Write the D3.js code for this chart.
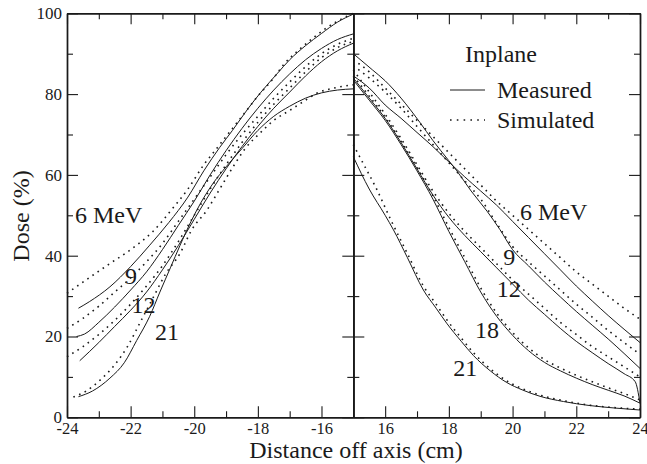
<!DOCTYPE html>
<html><head><meta charset="utf-8">
<script src="https://cdn.jsdelivr.net/npm/d3@7"></script>
<style>
body{margin:0;background:#fff}
svg text{font-family:'Liberation Serif','Times New Roman',Times,'Nimbus Roman','TeX Gyre Termes',FreeSerif,Tinos,'Noto Serif','DejaVu Serif',serif;fill:#1a1a1a}
</style>
</head><body>
<svg id="chart" width="647" height="464"></svg>
<script>
// ---------- data ----------
const leftDomain = [-24, -15];
const rightDomain = [15, 24];
const yDomain = [0, 100];
const xTicksLeft = [-24, -22, -20, -18, -16];
const xMinorLeft = [-23, -21, -19, -17];
const xTicksRight = [16, 18, 20, 22, 24];
const xMinorRight = [17, 19, 21, 23];
const yTicks = [0, 20, 40, 60, 80, 100];
const yMinor = [10, 30, 50, 70, 90];

// Left panel (negative off-axis side)
const left6Meas = [[-23.64,27],[-23.3,28.6],[-22.65,32.3],[-22,37.3],[-21.4,42.6],[-20.8,48.2],[-20.2,54.5],[-19.7,61],[-19.2,66.8],[-18.8,71],[-18.3,76.5],[-17.9,80.5],[-17.4,85],[-17,88.5],[-16.5,92],[-16,95],[-15.5,97.8],[-15,99.8]];
const left6Sim = [[-24,30.7],[-23.4,34],[-22.7,37.8],[-22,41.5],[-21.3,46],[-20.7,51.5],[-20.2,56.5],[-19.7,62.5],[-19.3,66.5],[-18.9,70.5],[-18.4,75.5],[-18,79.5],[-17.5,84],[-17.2,87.2],[-16.7,91],[-16.2,94.3],[-15.6,97.6],[-15,100]];
const left9Meas = [[-23.7,20],[-23.45,20.6],[-23,23.5],[-22.5,27.3],[-22,31.5],[-21.5,36],[-21,41.5],[-20.5,47.5],[-20,53.5],[-19.5,60],[-19,66],[-18.5,71.5],[-18,76.5],[-17.5,81],[-17,85],[-16.5,88.5],[-16,91.3],[-15.5,93.5],[-15,94.9]];
const left9Sim = [[-24,22],[-23.5,24.5],[-23,27.5],[-22.5,31],[-22,34.5],[-21.5,38.5],[-21,43],[-20.5,48.5],[-20,54],[-19.5,59.5],[-19,65],[-18.5,70],[-18,74.5],[-17.5,79],[-17,83],[-16.5,86.8],[-16,90],[-15.5,92.3],[-15,93.8]];
const left12Meas = [[-23.6,14],[-23,18.5],[-22.5,22.5],[-22,26.5],[-21.5,31],[-21,36.5],[-20.5,42.5],[-20,49],[-19.5,55.5],[-19,61.5],[-18.5,67],[-18,72],[-17.5,76.5],[-17,80.5],[-16.5,84.5],[-16,88],[-15.5,90.7],[-15,92.6]];
const left12Sim = [[-24,15],[-23.5,17.5],[-23,20.5],[-22.5,24],[-22,28],[-21.5,32.5],[-21,37.5],[-20.5,43.5],[-20,50],[-19.5,56.5],[-19,62.5],[-18.5,68],[-18,73],[-17.5,77.5],[-17,81.5],[-16.5,85.5],[-16,89],[-15.5,91.5],[-15,93]];
const left21Meas = [[-23.64,5.1],[-23.2,6.5],[-22.65,9.7],[-22.2,13.5],[-21.81,19],[-21.4,25],[-21.08,31],[-20.75,37],[-20.45,42.5],[-20.1,48.5],[-19.8,53],[-19.4,58],[-19,62],[-18.5,66.5],[-18,71],[-17.5,74.5],[-17,77],[-16.5,79],[-16,80.3],[-15.5,81],[-15,81.3]];
const left21Sim = [[-23.8,5],[-23.4,6.5],[-22.96,9.2],[-22.5,13],[-22.1,17.5],[-21.7,23.5],[-21.3,29.5],[-20.9,35.5],[-20.45,40.5],[-20.08,46.4],[-19.6,51.3],[-19.2,56.5],[-18.78,62],[-18.4,66.5],[-17.94,70.3],[-17.5,73.5],[-16.99,76],[-16.5,78.5],[-16.15,80.2],[-15.6,81.5],[-15,82.3]];

// Right panel (positive off-axis side)
const right6Meas = [[15,84.5],[15.5,81.5],[16,77.3],[16.5,74],[17,70.5],[17.5,67],[18,63.2],[18.5,59.5],[19,56],[19.5,52.5],[20,48.5],[20.5,44.5],[21,40.5],[21.5,36.5],[22,32.5],[22.5,28.8],[23,25.2],[23.5,21.8],[24,18.5]];
const right6Sim = [[15,88.5],[15.5,85.5],[16,81.5],[16.5,77.5],[17,73.5],[17.5,69.5],[18,65.5],[18.5,61.5],[19,57.5],[19.5,53.5],[20,50],[20.5,46.5],[21,43],[21.5,39.5],[22,36],[22.5,33],[23,30],[23.5,27],[24,24.3]];
const right9Meas = [[15,90],[15.6,86],[16,83.3],[16.5,79],[17.09,73],[17.5,68.5],[18,63.5],[18.25,61],[18.7,56],[19.2,51],[19.6,46.5],[20,41.5],[20.5,37.5],[21,33.5],[21.5,29.8],[22,26.2],[22.5,22.8],[23,19.4],[23.5,15.8],[24,12.1]];
const right9Sim = [[15,87],[15.5,84],[16,80.5],[16.5,76.5],[17,72],[17.5,67.5],[18,63],[18.5,58.5],[19,54],[19.5,48],[20,42.3],[20.5,38.5],[21,35],[21.5,31.5],[22,28],[22.5,24.8],[23,21.5],[23.5,18.5],[24,15.6]];
const right12Meas = [[15,84],[15.5,79],[16,74],[16.5,68],[17,61.5],[17.5,55],[18,49.5],[18.5,45],[19,41],[19.5,37],[20,33],[20.5,29],[21,25.5],[21.5,22],[22,18.8],[22.5,16],[23,13.3],[23.5,10.8],[23.85,8.8],[24,3.5]];
const right12Sim = [[15,86],[15.5,80.5],[16,75],[16.5,69],[17,62.5],[17.5,56],[18,50.5],[18.5,46],[19,42],[19.5,38],[20,34],[20.5,30.5],[21,27],[21.5,23.5],[22,20.5],[22.5,17.5],[23,15],[23.5,12.5],[24,10]];
const right18Meas = [[15,83.5],[15.5,78.5],[16,73.5],[16.5,67.5],[17,61],[17.5,54],[18,46],[18.5,38.5],[19,31],[19.5,25],[20,20.3],[20.5,16.5],[21,13.6],[21.5,11.5],[22,9.7],[22.5,8.1],[23,6.7],[23.5,5.3],[24,3.5]];
const right18Sim = [[15,84.5],[15.5,79.5],[16,74.3],[16.5,68.3],[17,61.8],[17.5,54.8],[18,47],[18.5,39.5],[19,32],[19.5,25.8],[20,21],[20.5,17.2],[21,14.3],[21.5,12.2],[22,10.4],[22.5,8.8],[23,7.3],[23.5,5.9],[24,4.3]];
const right21Meas = [[15,64.5],[15.5,56.5],[16,50],[16.26,46.4],[16.7,39.5],[17.2,31.5],[17.6,27],[17.93,23.3],[18.4,18.7],[18.77,15.3],[19.3,11.5],[19.82,8.6],[20.3,6.8],[20.86,5.2],[21.6,3.9],[22.43,2.9],[23.2,2.3],[24,1.8]];
const right21Sim = [[15,67.5],[15.3,63],[15.7,57],[16.2,48.5],[16.7,40.5],[17.2,32.5],[17.6,28],[17.93,24.2],[18.4,19.5],[18.77,16],[19.3,12],[19.82,9],[20.3,7.1],[20.86,5.5],[21.6,4.1],[22.43,3],[23.2,2.4],[24,2]];

const legendTitle = "Inplane";
const legendItems = ["Measured", "Simulated"];
const leftLabels = [["6 MeV",-23.75,48],["9",-22.18,33],["12",-21.97,25.9],["21",-21.23,19.1]];
const rightLabels = [["6 MeV",20.23,48.8],["9",19.71,37.7],["12",19.5,29.9],["18",18.82,19.6],["21",18.14,10.3]];

// ---------- layout ----------
const svg = d3.select("#chart");
const yTop = 13.3, yBot = 417.3, xL0 = 67, xMid = 353.3, xR1 = 640;
const xL = d3.scaleLinear().domain(leftDomain).range([xL0, xMid]);
const xR = d3.scaleLinear().domain(rightDomain).range([xMid, xR1]);
const y = d3.scaleLinear().domain(yDomain).range([yBot, yTop]);
const MAJ = 11, MIN = 6;
const ink = "#1a1a1a";

function styleAxis(g, fs) {
  g.attr("font-family", null);
  g.selectAll("path.domain").attr("stroke", ink).attr("stroke-width", 1.4);
  g.selectAll(".tick line").attr("stroke", ink).attr("stroke-width", 1.1);
  g.selectAll(".tick text").attr("font-size", fs).attr("fill", ink);
}
function xAxes(scale, major, minor) {
  const b = svg.append("g").attr("transform", `translate(0,${yBot})`)
    .call(d3.axisBottom(scale).tickValues(major).tickSizeInner(-MAJ).tickSizeOuter(0).tickPadding(5).tickFormat(d3.format("d")));
  styleAxis(b, 16.5);
  b.selectAll(".tick text").text(d => String(d));
  const bm = svg.append("g").attr("transform", `translate(0,${yBot})`)
    .call(d3.axisBottom(scale).tickValues(minor).tickSizeInner(-MIN).tickSizeOuter(0).tickFormat(""));
  styleAxis(bm, 16.5);
  const t = svg.append("g").attr("transform", `translate(0,${yTop})`)
    .call(d3.axisTop(scale).tickValues(major).tickSizeInner(-MAJ).tickSizeOuter(0).tickFormat(""));
  styleAxis(t, 16.5);
  const tm = svg.append("g").attr("transform", `translate(0,${yTop})`)
    .call(d3.axisTop(scale).tickValues(minor).tickSizeInner(-MIN).tickSizeOuter(0).tickFormat(""));
  styleAxis(tm, 16.5);
}
xAxes(xL, xTicksLeft, xMinorLeft);
xAxes(xR, xTicksRight, xMinorRight);

function yAxis(x, gen, values, size, labels) {
  const a = gen(y).tickValues(values).tickSizeInner(size).tickSizeOuter(0).tickPadding(5);
  if (!labels) a.tickFormat(""); else a.tickFormat(d3.format("d"));
  const g = svg.append("g").attr("transform", `translate(${x},0)`).call(a);
  styleAxis(g, 17);
}
yAxis(xL0, d3.axisLeft, yTicks, -MAJ, true);
yAxis(xL0, d3.axisLeft, yMinor, -MIN, false);
yAxis(xMid, d3.axisLeft, yTicks, MAJ, false);
yAxis(xMid, d3.axisLeft, yMinor, MIN, false);
yAxis(xMid, d3.axisRight, yTicks, MAJ, false);
yAxis(xMid, d3.axisRight, yMinor, MIN, false);
yAxis(xR1, d3.axisRight, yTicks, -MAJ, false);
yAxis(xR1, d3.axisRight, yMinor, -MIN, false);

// ---------- curves ----------
const series = [
  {xs: xL, data: left6Meas, sim: false}, {xs: xL, data: left6Sim, sim: true},
  {xs: xL, data: left9Meas, sim: false}, {xs: xL, data: left9Sim, sim: true},
  {xs: xL, data: left12Meas, sim: false}, {xs: xL, data: left12Sim, sim: true},
  {xs: xL, data: left21Meas, sim: false}, {xs: xL, data: left21Sim, sim: true},
  {xs: xR, data: right6Meas, sim: false}, {xs: xR, data: right6Sim, sim: true},
  {xs: xR, data: right9Meas, sim: false}, {xs: xR, data: right9Sim, sim: true},
  {xs: xR, data: right12Meas, sim: false}, {xs: xR, data: right12Sim, sim: true},
  {xs: xR, data: right18Meas, sim: false}, {xs: xR, data: right18Sim, sim: true},
  {xs: xR, data: right21Meas, sim: false}, {xs: xR, data: right21Sim, sim: true}
];
const curves = svg.append("g");
series.forEach(s => {
  const line = d3.line().x(d => s.xs(d[0])).y(d => y(d[1])).curve(d3.curveMonotoneX);
  const p = curves.append("path").attr("d", line(s.data)).attr("fill", "none").attr("stroke", ink);
  if (s.sim) p.attr("stroke-width", 1.6).attr("stroke-dasharray", "1.6,4.6");
  else p.attr("stroke-width", 1);
});

// ---------- annotations ----------
const ann = svg.append("g").attr("font-size", 24);
leftLabels.forEach(([t, xv, yv]) => ann.append("text").attr("x", xL(xv)).attr("y", y(yv)).text(t));
rightLabels.forEach(([t, xv, yv]) => ann.append("text").attr("x", xR(xv)).attr("y", y(yv)).text(t));

// legend
const lg = svg.append("g");
lg.append("text").attr("x", 465).attr("y", 62).attr("font-size", 24).text(legendTitle);
lg.append("line").attr("x1", 450).attr("x2", 485).attr("y1", 90).attr("y2", 90).attr("stroke", ink).attr("stroke-width", 1);
lg.append("text").attr("x", 497).attr("y", 98).attr("font-size", 24).text(legendItems[0]);
lg.append("line").attr("x1", 450).attr("x2", 485).attr("y1", 120).attr("y2", 120).attr("stroke", ink).attr("stroke-width", 1.6).attr("stroke-dasharray", "1.6,5.2");
lg.append("text").attr("x", 497).attr("y", 127.5).attr("font-size", 24).text(legendItems[1]);

// axis titles
svg.append("text").attr("x", 356).attr("y", 458).attr("text-anchor", "middle").attr("font-size", 24).text("Distance off axis (cm)");
svg.append("text").attr("transform", "translate(29,216) rotate(-90)").attr("text-anchor", "middle").attr("font-size", 24).text("Dose (%)");
</script>
</body></html>
